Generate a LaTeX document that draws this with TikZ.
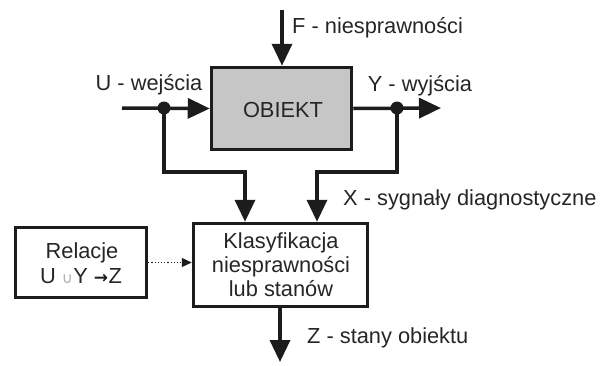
\documentclass[tikz,border=0pt]{standalone}
\usepackage{fontspec}
\setmainfont{Liberation Sans}
\newfontfamily\symfont{DejaVu Sans}
\usetikzlibrary{arrows.meta,calc}
\definecolor{ink}{HTML}{1C1C1C}
\definecolor{txt}{HTML}{262626}
\definecolor{boxgray}{HTML}{C6C6C6}
\begin{document}
\begin{tikzpicture}[x=1pt,y=-1pt,
  every node/.style={text=txt,font=\fontsize{21.8}{24}\selectfont},
  blockbox/.style={draw=ink,line width=3.5pt,inner sep=0pt,align=center},
  arr/.style={draw=ink,line width=3.5pt,-{Triangle[width=20pt,length=22pt]}},
  dotarr/.style={draw=ink,line width=1.2pt,dotted,-{Triangle[width=9pt,length=10pt]}},
  junction/.style={circle,fill=ink,inner sep=0pt,minimum size=13pt},
  lbl/.style={anchor=base west,inner sep=0pt}]
\useasboundingbox (0,0) rectangle (603,365);

% blocks
\node[blockbox,fill=boxgray,minimum width=140pt,minimum height=82pt] (obj) at (281.5,108.5) {};
\node[anchor=base,inner sep=0pt] (objt) at (283,117) {OBIEKT};
\node[blockbox,fill=white,minimum width=174pt,minimum height=83pt] (cls) at (280.5,265) {};
\node[inner sep=0pt,align=center] (clst) at (281,265) {Klasyfikacja\\niesprawności\\lub stanów};
\node[blockbox,fill=white,minimum width=131pt,minimum height=70pt] (rel) at (81,262.5) {};
\node[anchor=base,inner sep=0pt] (relt1) at (82,258) {Relacje};
\node[anchor=base,inner sep=0pt] (relt2) at (81,283)
  {U\hspace{6pt}{\symfont\fontsize{15}{15}\selectfont\color{gray!65}∪}\hspace{0.5pt}Y\hspace{6pt}{\symfont\bfseries\fontsize{17}{17}\selectfont\color{ink}→}\hspace{0.5pt}Z};

% junction points and free ends
\coordinate (uin) at (122,108);
\node[junction] (du) at (164,108) {};
\node[junction] (dy) at (397,108) {};
\coordinate (yout) at (441,108);
\coordinate (fin) at (282,10);
\coordinate (bl) at (245,172);
\coordinate (br) at (317,172);
\coordinate (zout) at (280,362);

% connectors
\draw[arr] (uin) -- (obj.west);
\draw[arr] (obj.east) -- (yout);
\draw[arr] (fin) -- (fin |- obj.north);
\draw[arr] (du.center) |- (bl) -- (bl |- cls.north);
\draw[arr] (dy.center) |- (br) -- (br |- cls.north);
\draw[arr] (cls.south -| zout) -- (zout);
\draw[dotarr] (rel.east) -- (rel.east -| cls.west);

% labels
\node[lbl] (lf) at (292,33) {F - niesprawności};
\node[anchor=base,inner sep=0pt] (lu) at (149,90) {U - wejścia};
\node[anchor=base,inner sep=0pt] (ly) at (420,91) {Y - wyjścia};
\node[lbl] (lx) at (343,205) {X - sygnały diagnostyczne};
\node[lbl] (lz) at (307,343) {Z - stany obiektu};
\end{tikzpicture}
\end{document}
